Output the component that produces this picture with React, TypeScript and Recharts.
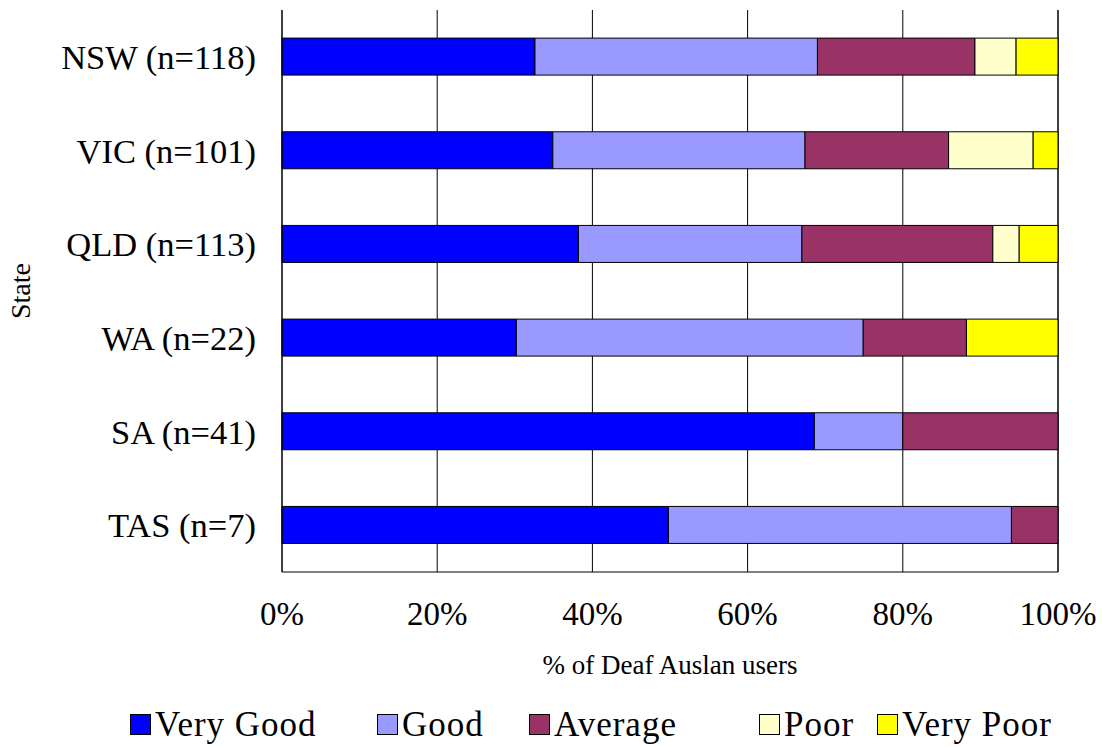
import { Bar, BarChart, CartesianGrid, Label, Legend, XAxis, YAxis } from "recharts";

const states = ["NSW (n=118)", "VIC (n=101)", "QLD (n=113)", "WA (n=22)", "SA (n=41)", "TAS (n=7)"];
const veryGood = [32.6, 34.9, 38.2, 30.2, 68.6, 49.8];
const good = [36.4, 32.5, 28.8, 44.7, 11.4, 44.2];
const average = [20.3, 18.5, 24.6, 13.3, 20.0, 6.0];
const poor = [5.3, 10.9, 3.4, 0, 0, 0];
const veryPoor = [5.4, 3.2, 5.0, 11.8, 0, 0];
const xTicks = [0, 20, 40, 60, 80, 100];

const series = [
  { key: "veryGood", name: "Very Good", color: "#0000ff" },
  { key: "good", name: "Good", color: "#9999ff" },
  { key: "average", name: "Average", color: "#993366" },
  { key: "poor", name: "Poor", color: "#ffffcc" },
  { key: "veryPoor", name: "Very Poor", color: "#ffff00" },
];

const data = states.map((state, i) => ({
  state,
  veryGood: veryGood[i],
  good: good[i],
  average: average[i],
  poor: poor[i],
  veryPoor: veryPoor[i],
}));

const FONT = "Liberation Serif, DejaVu Serif, serif";
// legend item left edges, laid out like the original's spreadsheet legend
const legendLefts = [130, 377, 529, 759, 877];

function ChartLegend() {
  return (
    <div style={{ position: "relative", width: 1102, height: 60, fontFamily: FONT }}>
      {series.map((s, i) => (
        <div key={s.key} style={{ position: "absolute", left: legendLefts[i], top: 27, display: "flex", alignItems: "center", height: 21 }}>
          <span style={{ width: 19, height: 19, background: s.color, border: "1px solid #000", marginRight: 4, display: "inline-block" }} />
          <span style={{ fontSize: 35, lineHeight: "21px", letterSpacing: 1, color: "#000", fontFamily: FONT, whiteSpace: "nowrap" }}>{s.name}</span>
        </div>
      ))}
    </div>
  );
}

export default function App() {
  return (
    <div style={{ position: "absolute", left: 0, top: 0, background: "#fff", fontFamily: FONT }}>
      <BarChart
        width={1102}
        height={747}
        data={data}
        layout="vertical"
        margin={{ top: 10, right: 44, left: 0, bottom: 0 }}
        barCategoryGap="30%"
        style={{ fontFamily: FONT }}
      >
        <CartesianGrid horizontal={false} stroke="#000" />
        <XAxis
          type="number"
          domain={[0, 100]}
          ticks={xTicks}
          tickFormatter={(v) => `${v}%`}
          tickLine={false}
          tickSize={0}
          tickMargin={30}
          axisLine={{ stroke: "#000" }}
          tick={{ fill: "#000", fontSize: 33, fontFamily: FONT }}
          height={115}
        >
          <Label value="% of Deaf Auslan users" position="insideBottom" offset={13} style={{ fontSize: 27, fill: "#000", fontFamily: FONT }} />
        </XAxis>
        <XAxis xAxisId="top" orientation="top" type="number" domain={[0, 100]} height={0} tick={false} tickLine={false} axisLine={{ stroke: "#000" }} />
        <YAxis
          type="category"
          dataKey="state"
          width={282}
          tickLine={false}
          tickSize={0}
          tickMargin={26}
          axisLine={{ stroke: "#000" }}
          tick={{ fill: "#000", fontSize: 34.5, fontFamily: FONT }}
        >
          <Label
            content={({ viewBox }: any) => (
              <text
                x={20}
                y={viewBox.y + viewBox.height / 2}
                transform={`rotate(-90 20 ${viewBox.y + viewBox.height / 2})`}
                textAnchor="middle"
                dominantBaseline="central"
                fontSize={28}
                fontFamily={FONT}
                fill="#000"
              >
                State
              </text>
            )}
          />
        </YAxis>
        <Legend verticalAlign="bottom" content={() => <ChartLegend />} wrapperStyle={{ left: 0, width: 1102 }} />
        {series.map((s) => (
          <Bar key={s.key} dataKey={s.key} name={s.name} stackId="a" fill={s.color} stroke="#000" strokeWidth={1} isAnimationActive={false} />
        ))}
      </BarChart>
    </div>
  );
}
